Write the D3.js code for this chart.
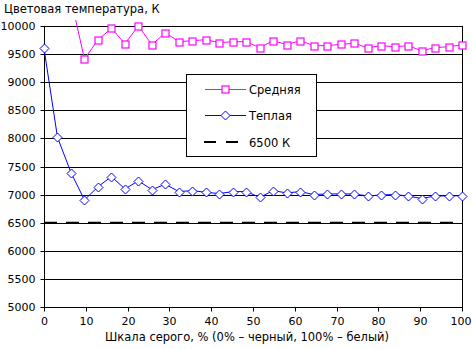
<!DOCTYPE html>
<html><head><meta charset="utf-8">
<script src="https://cdn.jsdelivr.net/npm/d3@7"></script>
<style>
html,body{margin:0;padding:0;background:#fff;}
svg{display:block;font-family:"DejaVu Sans",sans-serif;}
</style></head>
<body><svg id="c" width="472" height="349"></svg>
<script>
const title = "Цветовая температура, К";
const xTitle = "Шкала серого, % (0% – черный, 100% – белый)";
const seriesNames = ["Средняя", "Теплая", "6500 К"];
const xTicks = [0,10,20,30,40,50,60,70,80,90,100];
const yTicks = [5000,5500,6000,6500,7000,7500,8000,8500,9000,9500,10000];
const pointCount = 32;
const avgValues = [12000,11200,10480,9413,9751,9959,9685,10000,9667,9881,9721,9738,9756,9703,
  9721,9721,9614,9739,9668,9739,9650,9650,9674,9692,9614,9650,9632,9650,9561,9614,9632,9662];
const warmValues = [9600,8020,7393,6905,7138,7321,7100,7245,7089,7184,7054,7071,7041,7018,
  7054,7054,6952,7071,7030,7054,7000,7012,7012,7012,6976,6994,7000,6976,6929,6976,6976,6982];
const refValue = 6500;

const FS = 11.5, TFS = 11;
const FF = "DejaVu Sans, sans-serif";
const xs = d3.range(pointCount).map(i => i*100/(pointCount-1));
const svg = d3.select("#c");
const L=44, R=462, T=26, B=307;
const x = d3.scaleLinear().domain([0,100]).range([L,R]);
const y = d3.scaleLinear().domain([5000,10000]).range([B,T]);

svg.append("rect").attr("x",L+0.5).attr("y",T+0.5).attr("width",R-L).attr("height",B-T)
  .attr("fill","#fff").attr("stroke","#000");

svg.append("g").selectAll("line").data(yTicks.slice(1)).join("line")
  .attr("x1",L).attr("x2",R).attr("y1",d=>Math.round(y(d))+0.5).attr("y2",d=>Math.round(y(d))+0.5)
  .attr("stroke","#000");

const yAxis = d3.axisLeft(y).tickValues(yTicks).tickSize(4).tickPadding(5).tickFormat(d3.format("d"));
const gy = svg.append("g").attr("transform",`translate(${L+0.5},0.5)`).call(yAxis);
gy.select(".domain").attr("d",`M0,${T}V${B}`);
gy.selectAll(".tick").attr("transform",d=>`translate(0,${Math.round(y(d))})`);
const xAxis = d3.axisBottom(x).tickValues(xTicks).tickSize(4).tickPadding(6);
const gx = svg.append("g").attr("transform",`translate(0.5,${B+0.5})`).call(xAxis);
gx.select(".domain").attr("d",`M${L},0H${R}`);
gx.selectAll(".tick").attr("transform",d=>`translate(${Math.round(x(d))},0)`);
svg.selectAll(".tick text").attr("font-size",TFS).attr("fill","#000").attr("font-family",FF);
svg.selectAll(".tick line, .domain").attr("stroke","#000");
// keep last x label inside the window
gx.selectAll(".tick text").each(function(){
  const bb = this.getBBox();
  const m = this.parentNode.transform.baseVal.consolidate().matrix;
  const right = m.e + bb.x + bb.width;
  if (right > 471) d3.select(this).attr("dx", 471 - right);
});

svg.append("clipPath").attr("id","clip").append("rect").attr("x",L).attr("y",20).attr("width",R-L+8).attr("height",B-20);

svg.append("line").attr("x1",x(0)).attr("x2",x(100)).attr("y1",y(refValue)).attr("y2",y(refValue))
  .attr("stroke","#000").attr("stroke-width",2).attr("stroke-dasharray","13,9");

const line = d3.line().x((d,i)=>x(xs[i])).y(d=>y(d));
svg.append("path").datum(avgValues).attr("d",line).attr("fill","none").attr("stroke","#ff00ff")
  .attr("stroke-width",1).attr("clip-path","url(#clip)");
svg.append("path").datum(warmValues).attr("d",line).attr("fill","none").attr("stroke","#0000ff")
  .attr("stroke-width",1);

const sq = 7;
svg.append("g").attr("clip-path","url(#clip)").selectAll("rect").data(avgValues).join("rect")
  .attr("x",(d,i)=>Math.round(x(xs[i]))-sq/2+0.5).attr("y",d=>Math.round(y(d))-sq/2+0.5)
  .attr("width",sq).attr("height",sq).attr("fill","#fff").attr("stroke","#ff00ff").attr("stroke-width",1.2);
const diamond = "M0,-4.5L4.5,0L0,4.5L-4.5,0Z";
svg.append("g").selectAll("path").data(warmValues).join("path")
  .attr("transform",(d,i)=>`translate(${Math.round(x(xs[i]))+0.5},${Math.round(y(d))+0.5})`)
  .attr("d",diamond).attr("fill","#fff").attr("stroke","#0000ff").attr("stroke-width",1);

const lg = svg.append("g");
lg.append("rect").attr("x",186.5).attr("y",74.5).attr("width",130).attr("height",82).attr("fill","#fff").attr("stroke","#000");
const ly = [89, 115, 142];
const colors = ["#ff00ff","#0000ff","#000"];
seriesNames.forEach((n,i)=>{
  const g = lg.append("g");
  if(i<2){
    g.append("line").attr("x1",205).attr("x2",246).attr("y1",ly[i]+0.5).attr("y2",ly[i]+0.5).attr("stroke",colors[i]);
  } else {
    g.append("line").attr("x1",204).attr("x2",239).attr("y1",ly[i]).attr("y2",ly[i])
      .attr("stroke","#000").attr("stroke-width",2).attr("stroke-dasharray","12,10");
  }
  if(i===0) g.append("rect").attr("x",225-sq/2+0.5).attr("y",ly[i]-sq/2+0.5).attr("width",sq).attr("height",sq)
    .attr("fill","#fff").attr("stroke","#ff00ff").attr("stroke-width",1.2);
  if(i===1) g.append("path").attr("transform",`translate(225.5,${ly[i]+0.5})`).attr("d",diamond)
    .attr("fill","#fff").attr("stroke","#0000ff");
  g.append("text").attr("x",249).attr("y",ly[i]+5).attr("font-size",FS).attr("font-family",FF).text(n);
});

svg.append("text").attr("x",4).attr("y",13).attr("font-size",FS).attr("font-family",FF).text(title);
svg.append("text").attr("x",247).attr("y",341).attr("text-anchor","middle").attr("font-size",FS).attr("font-family",FF).text(xTitle);
</script></body></html>
